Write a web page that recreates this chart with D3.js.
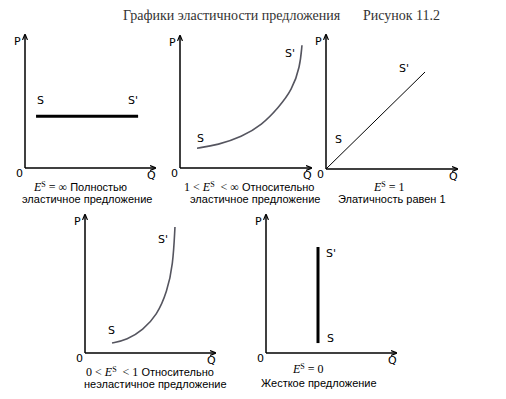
<!DOCTYPE html>
<html>
<head>
<meta charset="utf-8">
<script src="https://cdn.jsdelivr.net/npm/d3@7.9.0/dist/d3.min.js"></script>
<style>
  body { margin: 0; background: #fff; }
  svg { display: block; }
  .ax { font-family: "DejaVu Sans", sans-serif; font-size: 11px; }
  .cap { font-family: "Liberation Sans", Arial, sans-serif; font-size: 11px; }
  .math { font-family: "Liberation Serif", serif; }
</style>
</head>
<body>
<svg id="chart" width="506" height="399"></svg>
<script>
// supply curves, in units of a 0..10 grid per panel
const perfectSupply = [[0.85, 3.9], [8.7, 3.9]];
const elasticSupply = [[1.3, 1.5], [2.9, 1.75], [4.7, 2.35], [6.26, 3.26], [7.5, 4.55], [8.55, 5.9], [9.16, 7.65], [9.31, 9.3]];
const unitSupply = [[0, 0], [7.56, 7.24]];
const inelasticSupply = [[2.08, 0.72], [3.23, 0.94], [4.46, 1.67], [5.54, 2.75], [6.31, 4.42], [6.77, 6.38], [6.92, 9.13]];
const fixedSupply = [[4.0, 0.72], [4.0, 7.68]];

const curveLabels = ["S", "S'"];
const axisLabels = ["P", "Q", "0"];
const titleText = ["Графики эластичности предложения", "Рисунок 11.2"];

// caption: [math prefix parts [before, sup, after], text, second line]
const captions = [
  [["", "S", " = ∞"], " Полностью", "эластичное предложение"],
  [["1 < ", "S", "  < ∞"], " Относительно", "эластичное предложение"],
  [["", "S", " = 1"], "", "Элатичность равен 1"],
  [["0 < ", "S", "  < 1"], " Относительно", "неэластичное предложение"],
  [["", "S", " = 0"], "", "Жесткое предложение"]
];

const panels = [
  { data: perfectSupply, ox: 25, oy: 168, w: 130, h: 133, stroke: "#000", sw: 3, sOff: [1, -12], spOff: [-10, -12],
    cap: [34, 191, 22, 203] },
  { data: elasticSupply, ox: 180, oy: 168, w: 131, h: 132, stroke: "#55555f", sw: 1.6, sOff: [0, -6], spOff: [-17, 12],
    cap: [184, 191, 190, 203] },
  { data: unitSupply, ox: 326, oy: 169, w: 131, h: 134, stroke: "#000", sw: 1, sOff: [9, -26], spOff: [-26, 0],
    cap: [374, 191, 338, 203] },
  { data: inelasticSupply, ox: 85, oy: 353, w: 130, h: 138, stroke: "#55555f", sw: 1.6, sOff: [-4, -9], spOff: [-17, 16],
    cap: [86, 376, 84, 388] },
  { data: fixedSupply, ox: 266, oy: 353, w: 130, h: 138, stroke: "#000", sw: 3, sOff: [9, -1], spOff: [8, 10],
    cap: [293, 373, 261, 387] }
];

const svg = d3.select("#chart");

svg.append("defs").append("marker")
  .attr("id", "arrow")
  .attr("viewBox", "0 -3 6 6")
  .attr("refX", 5).attr("refY", 0)
  .attr("markerWidth", 6).attr("markerHeight", 6)
  .attr("markerUnits", "userSpaceOnUse")
  .attr("orient", "auto")
  .append("path")
  .attr("d", "M0,-2.5L6,0L0,2.5")
  .attr("fill", "none")
  .attr("stroke", "#000")
  .attr("stroke-width", 1.2);

svg.append("text")
  .attr("x", 123).attr("y", 20)
  .attr("font-family", "Liberation Serif, serif")
  .attr("font-size", 14)
  .attr("fill", "#333")
  .text(titleText[0]);
svg.append("text")
  .attr("x", 363).attr("y", 20)
  .attr("font-family", "Liberation Serif, serif")
  .attr("font-size", 14)
  .attr("fill", "#333")
  .text(titleText[1]);

panels.forEach((p, i) => {
  const x = d3.scaleLinear().domain([0, 10]).range([p.ox, p.ox + p.w]);
  const y = d3.scaleLinear().domain([0, 10]).range([p.oy, p.oy - p.h]);
  const g = svg.append("g");

  // axes
  g.append("line")
    .attr("x1", x(0)).attr("y1", y(0)).attr("x2", x(0)).attr("y2", y(10))
    .attr("stroke", "#000").attr("stroke-width", 1.5)
    .attr("marker-end", "url(#arrow)");
  g.append("line")
    .attr("x1", x(0)).attr("y1", y(0)).attr("x2", x(10)).attr("y2", y(0))
    .attr("stroke", "#000").attr("stroke-width", 1.5)
    .attr("marker-end", "url(#arrow)");

  g.append("text").attr("class", "ax")
    .attr("x", x(0) - 11).attr("y", y(10) + 10).text(axisLabels[0]);
  g.append("text").attr("class", "ax")
    .attr("x", x(10) - 8).attr("y", y(0) + 11).text(axisLabels[1]);
  g.append("text").attr("class", "ax")
    .attr("x", x(0) - 9).attr("y", y(0) + 9).text(axisLabels[2]);

  // supply curve
  const line = d3.line()
    .x(d => x(d[0])).y(d => y(d[1]))
    .curve(p.data.length > 2 ? d3.curveBasis : d3.curveLinear);
  g.append("path")
    .datum(p.data)
    .attr("d", line)
    .attr("fill", "none")
    .attr("stroke", p.stroke)
    .attr("stroke-width", p.sw);

  const first = p.data[0];
  const last = p.data[p.data.length - 1];
  g.append("text").attr("class", "ax")
    .attr("x", x(first[0]) + p.sOff[0]).attr("y", y(first[1]) + p.sOff[1])
    .text(curveLabels[0]);
  g.append("text").attr("class", "ax")
    .attr("x", x(last[0]) + p.spOff[0]).attr("y", y(last[1]) + p.spOff[1])
    .text(curveLabels[1]);

  // caption
  const c = captions[i];
  const t1 = g.append("text").attr("x", p.cap[0]).attr("y", p.cap[1]).style("white-space", "pre");
  t1.append("tspan").attr("class", "math").style("font-size", "12px").text(c[0][0]);
  t1.append("tspan").attr("class", "math").style("font-size", "12px").style("font-style", "italic").text("E");
  t1.append("tspan").attr("class", "math").style("font-size", "8px").attr("dy", -4).text(c[0][1]);
  t1.append("tspan").attr("class", "math").style("font-size", "12px").attr("dy", 4).text(c[0][2]);
  t1.append("tspan").attr("class", "cap").text(c[1]);
  g.append("text").attr("class", "cap")
    .attr("x", p.cap[2]).attr("y", p.cap[3])
    .text(c[2]);
});
</script>
</body>
</html>
